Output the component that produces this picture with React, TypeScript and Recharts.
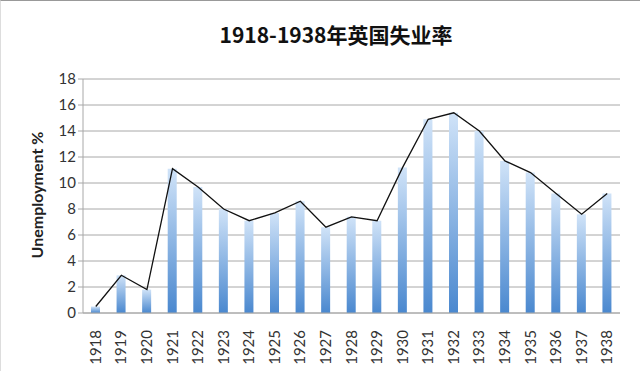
import React from 'react';
import {
  ComposedChart, Bar, Line, XAxis, YAxis, CartesianGrid,
} from 'recharts';

const years = [
  '1918', '1919', '1920', '1921', '1922', '1923', '1924', '1925', '1926', '1927', '1928',
  '1929', '1930', '1931', '1932', '1933', '1934', '1935', '1936', '1937', '1938',
];
const unemployment = [
  0.5, 2.9, 1.8, 11.1, 9.7, 8.0, 7.1, 7.7, 8.6, 6.6, 7.4,
  7.1, 11.2, 14.9, 15.4, 14.0, 11.7, 10.8, 9.2, 7.6, 9.2,
];
const yTicks = [0, 2, 4, 6, 8, 10, 12, 14, 16, 18];

const data = years.map((year, i) => ({ year, rate: unemployment[i] }));

const FONT = 'Lato, "Liberation Sans", sans-serif';

// rotated year label, reads bottom to top
function YearTick({ x, y, payload }: any) {
  return (
    <text
      x={0}
      y={0}
      transform={`translate(${x + 5},${y + 9}) rotate(-90)`}
      textAnchor="end"
      fontSize={15}
      fontFamily={FONT}
      fill="#333"
    >
      {payload.value}
    </text>
  );
}

export default function App() {
  return (
    <div
      style={{
        position: 'absolute', left: 0, top: 0, width: 640, height: 371,
        background: '#fff', borderTop: '1px solid #999', borderLeft: '1px solid #ddd',
        boxSizing: 'border-box', overflow: 'hidden',
      }}
    >
      <ComposedChart
        width={640}
        height={371}
        data={data}
        margin={{ top: 78, right: 21, bottom: 0, left: 0 }}
      >
        <defs>
          <linearGradient id="barFill" x1="0" y1="0" x2="0" y2="1">
            <stop offset="0%" stopColor="#d0e3f8" />
            <stop offset="100%" stopColor="#4a88cf" />
          </linearGradient>
        </defs>
        <text
          x={335}
          y={42}
          textAnchor="middle"
          fontSize={21}
          fontWeight="bold"
          fontFamily='"Noto Sans CJK SC", sans-serif'
          fill="#111"
        >
          1918-1938年英国失业率
        </text>
        <text
          transform="translate(42,194) rotate(-90)"
          textAnchor="middle"
          fontSize={16}
          fontWeight="bold"
          fontFamily={FONT}
          fill="#222"
        >
          Unemployment %
        </text>
        <CartesianGrid vertical={false} stroke="#a8a8a8" strokeWidth={1} />
        <XAxis
          dataKey="year"
          type="category"
          interval={0}
          tickLine={false}
          axisLine={{ stroke: '#a8a8a8' }}
          tick={<YearTick />}
          height={59}
        />
        <YAxis
          domain={[0, 18]}
          ticks={yTicks}
          interval={0}
          width={82}
          tickSize={5}
          tickLine={{ stroke: '#a8a8a8' }}
          axisLine={{ stroke: '#a8a8a8' }}
          tick={{ fontSize: 15, fill: '#333', fontFamily: FONT }}
        />
        <Bar dataKey="rate" barSize={9} fill="url(#barFill)" isAnimationActive={false} />
        <Line
          dataKey="rate"
          type="linear"
          stroke="#111"
          strokeWidth={1.3}
          dot={false}
          isAnimationActive={false}
        />
      </ComposedChart>
    </div>
  );
}
